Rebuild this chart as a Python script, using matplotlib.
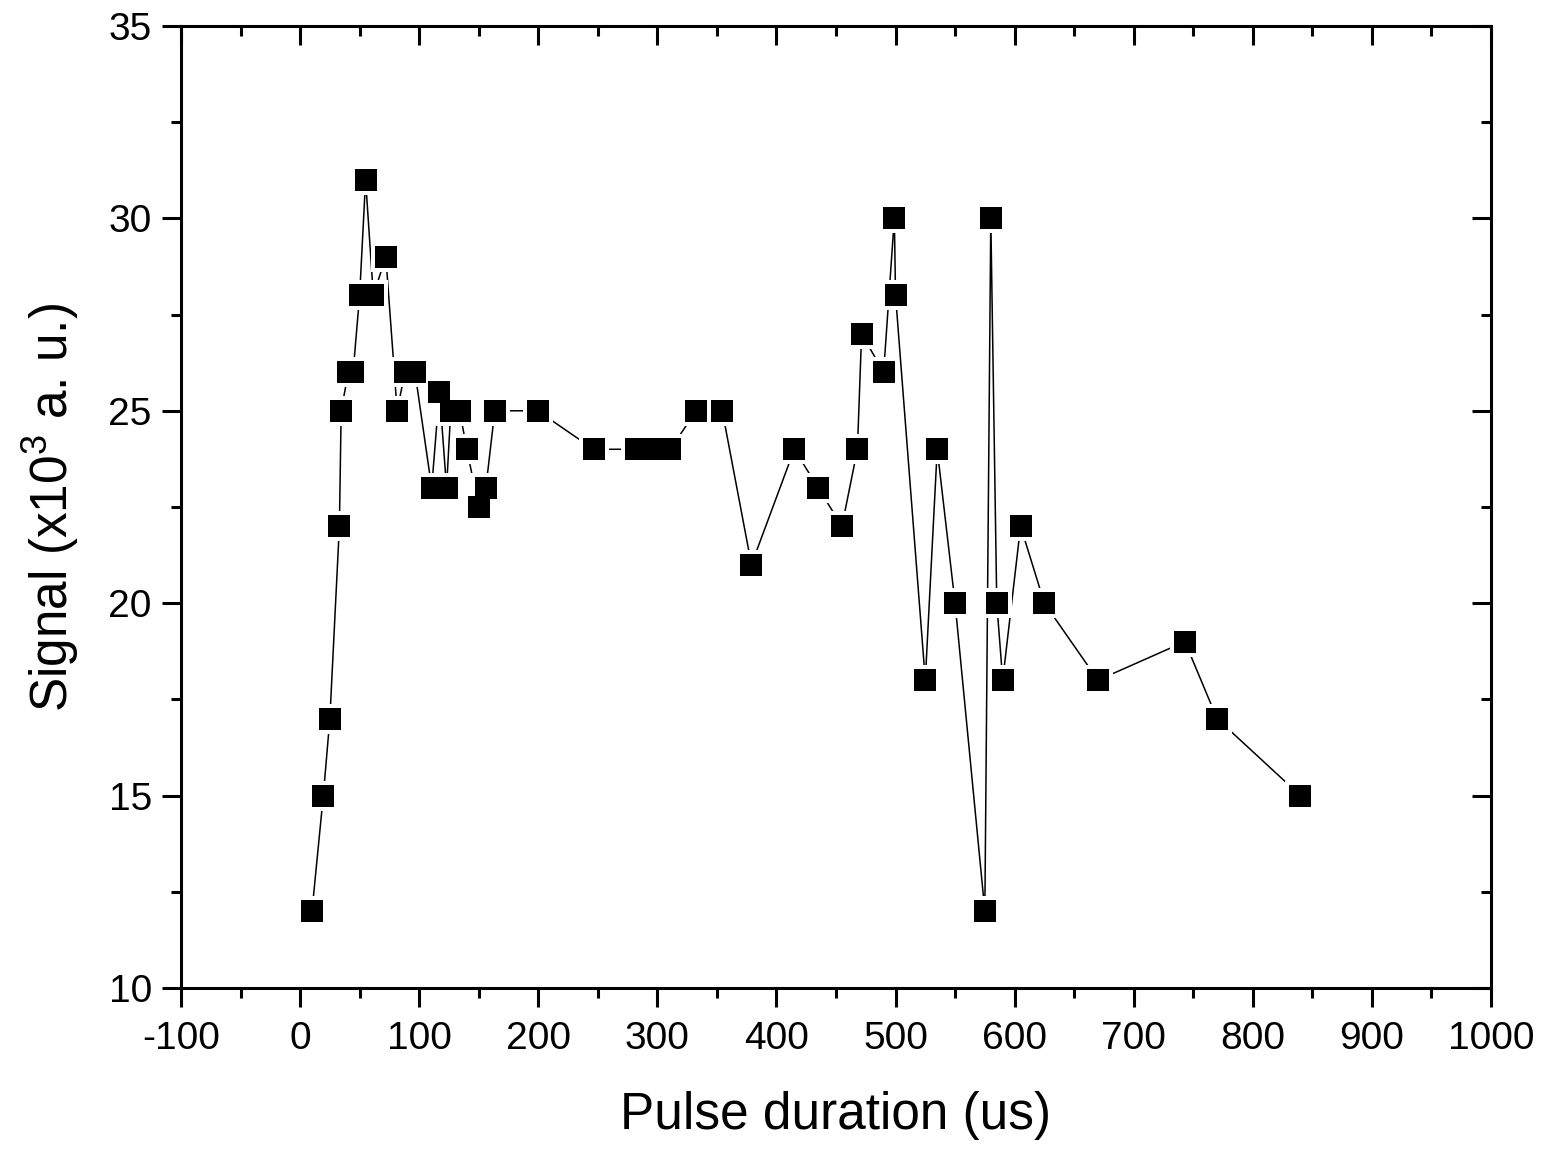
import matplotlib

matplotlib.use("Agg")
import matplotlib.pyplot as plt
from matplotlib.ticker import MultipleLocator

# pulse duration (us) and signal (x10^3 a.u.)
pulse_us = [
    10, 19.5, 25, 33, 34.5, 40.5, 44.5, 50, 55, 61.5, 72, 81.5, 88, 96.5,
    110.5, 117, 123, 126.5, 134, 140, 150, 156, 163.5, 199.5, 246.5,
    282, 292, 301, 311, 332.5, 354.5, 379, 415, 435, 455, 468, 471.5,
    490, 499, 500, 525, 535, 550, 575, 580, 585, 590, 605, 625, 670,
    743, 770, 840,
]
signal = [
    12, 15, 17, 22, 25, 26, 26, 28, 31, 28, 29, 25, 26, 26,
    23, 25.5, 23, 25, 25, 24, 22.5, 23, 25, 25, 24,
    24, 24, 24, 24, 25, 25, 21, 24, 23, 22, 24, 27,
    26, 30, 28, 18, 24, 20, 12, 30, 20, 18, 22, 20, 18,
    19, 17, 15,
]

x_ticks = list(range(-100, 1001, 100))
y_ticks = [10, 15, 20, 25, 30, 35]

plt.rcParams["font.family"] = ["Liberation Sans", "DejaVu Sans"]
plt.rcParams["axes.unicode_minus"] = False
plt.rcParams["mathtext.fontset"] = "custom"
plt.rcParams["mathtext.rm"] = "Liberation Sans"

fig = plt.figure(figsize=(15.51, 11.49), dpi=100)
ax = fig.add_axes([0.1167, 0.1401, 0.9613 - 0.1167, 0.9774 - 0.1401])

ax.plot(pulse_us, signal, color="black", linewidth=1.1, zorder=2)
# white halo so the line stops short of each symbol, like the original
ax.plot(pulse_us, signal, linestyle="none", marker="s", markersize=21,
        color="white", markeredgewidth=0, zorder=3)
ax.plot(pulse_us, signal, linestyle="none", marker="s", markersize=15.5,
        color="black", markeredgewidth=0, zorder=4)

ax.set_xlim(-100, 1000)
ax.set_ylim(10, 35)
ax.set_xticks(x_ticks)
ax.set_yticks(y_ticks)
ax.xaxis.set_minor_locator(MultipleLocator(50))
ax.yaxis.set_minor_locator(MultipleLocator(2.5))

for side in ax.spines.values():
    side.set_linewidth(2.2)

ax.tick_params(which="both", direction="out", width=2.2, labelsize=28,
               bottom=True, left=True, top=False, right=False)
ax.tick_params(which="major", length=14)
ax.tick_params(axis="x", which="major", pad=10)
ax.tick_params(axis="y", which="major", pad=7)
ax.tick_params(which="minor", length=7)

# inward ticks on the top and right edges
ax_top = ax.secondary_xaxis("top")
ax_top.set_xticks(x_ticks)
ax_top.xaxis.set_minor_locator(MultipleLocator(50))
ax_top.tick_params(which="both", direction="in", width=2.2, labeltop=False)
ax_top.tick_params(which="major", length=14)
ax_top.tick_params(which="minor", length=7)
ax_right = ax.secondary_yaxis("right")
ax_right.set_yticks(y_ticks)
ax_right.yaxis.set_minor_locator(MultipleLocator(2.5))
ax_right.tick_params(which="both", direction="in", width=2.2, labelright=False)
ax_right.tick_params(which="major", length=14)
ax_right.tick_params(which="minor", length=7)

ax.set_xlabel("Pulse duration (us)", fontsize=37, labelpad=24)
ax.set_ylabel("Signal (x10$^3$ a. u.)", fontsize=37, labelpad=20)

fig.savefig("out.png", dpi=100)
